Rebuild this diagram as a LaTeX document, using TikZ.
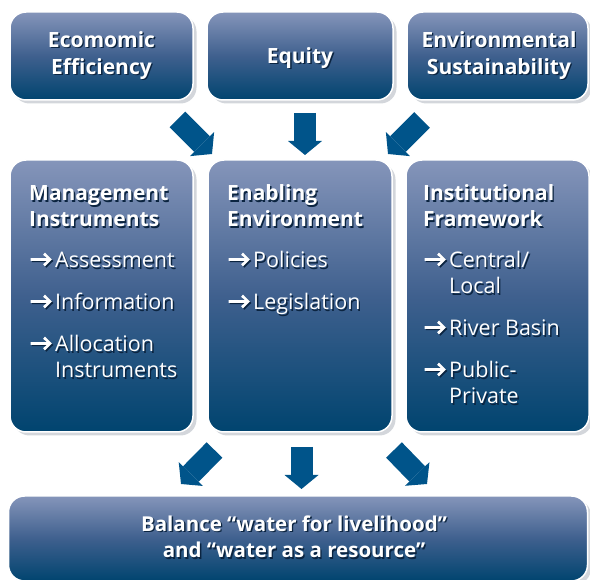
\documentclass[tikz,border=0pt]{standalone}
\usepackage{fontspec}
\setmainfont{Open Sans}
\usetikzlibrary{arrows.meta,shadows}
\definecolor{boxtop}{HTML}{8595BA}
\definecolor{boxmid}{HTML}{3F608E}
\definecolor{boxbot}{HTML}{00446F}
\definecolor{flowblue}{HTML}{00548A}
\definecolor{paleshade}{HTML}{D3D6DB}
\definecolor{textshade}{HTML}{0B2440}
\newcommand{\titlesize}{\fontsize{21}{25}\selectfont\bfseries}
\newcommand{\itemsize}{\fontsize{21.5}{25}\selectfont}
\newcommand{\footsize}{\fontsize{20.5}{24}\selectfont\bfseries}
% small arrow in front of each list entry
\newcommand{\bullarrow}{\makebox[26pt][l]{\tikz[baseline=0pt]\draw[line width=2.7pt,miter limit=10]
  (0,8.5pt) -- (19pt,8.5pt) (13.5pt,14.3pt) -- (19.5pt,8.5pt) -- (13.5pt,2.7pt);}}
% white text with a dark copy behind it
\newcommand{\shadowed}[4]{%
  \node[txtshade,#2] (#1s) at ([shift={(1.4,1.4)}]#3) {#4};
  \node[txtwhite,#2] (#1) at (#3) {#4};}
\tikzset{
  panel/.style={rectangle,rounded corners=16pt,draw=white,line width=1.5pt,
    top color=boxtop,bottom color=boxbot,middle color=boxmid,inner sep=0pt,
    drop shadow={shadow xshift=3.5pt,shadow yshift=-3.5pt,fill=paleshade,opacity=1}},
  flow/.style={draw=flowblue,line width=22pt,
    -{Triangle[width=34pt,length=14pt,line width=0pt]}},
  txtwhite/.style={text=white,inner sep=0pt},
  txtshade/.style={text=textshade,inner sep=0pt},
  headline/.style={font=\titlesize,anchor=base},
  subhead/.style={font=\titlesize,anchor=base west},
  entry/.style={font=\itemsize,anchor=base west},
  footline/.style={font=\footsize,anchor=base},
}

\begin{document}
\begin{tikzpicture}[x=1pt,y=-1pt]
  \clip (0,0) rectangle (590,580);

  % goals
  \node[panel,minimum width=183pt,minimum height=88pt] (eco) at (101.5,56) {};
  \node[panel,minimum width=186pt,minimum height=88pt] (equ) at (300,56) {};
  \node[panel,minimum width=181pt,minimum height=88pt] (env) at (497.5,56) {};
  % pillars
  \node[panel,minimum width=183pt,minimum height=272pt] (mgmt) at (101.5,296) {};
  \node[panel,minimum width=184pt,minimum height=272pt] (enab) at (300,296) {};
  \node[panel,minimum width=183pt,minimum height=272pt] (inst) at (497.5,296) {};
  % result
  \node[panel,minimum width=579pt,minimum height=85pt] (bal) at (298,538.5) {};

  \shadowed{ecoA}{headline}{101.5,47.5}{Ecomomic}
  \shadowed{ecoB}{headline}{101.5,74.5}{Efficiency}
  \shadowed{equA}{headline}{300,63.5}{Equity}
  \shadowed{envA}{headline}{499,47.5}{Environmental}
  \shadowed{envB}{headline}{499,74.5}{Sustainability}

  \shadowed{mgA}{subhead}{29,201}{Management}
  \shadowed{mgB}{subhead}{29,227}{Instruments}
  \shadowed{mg1}{entry}{29,268}{\bullarrow Assessment}
  \shadowed{mg2}{entry}{29,310}{\bullarrow Information}
  \shadowed{mg3}{entry}{29,352}{\bullarrow Allocation}
  \shadowed{mg3b}{entry}{55,378}{Instruments}

  \shadowed{enA}{subhead}{227,201}{Enabling}
  \shadowed{enB}{subhead}{227,227}{Environment}
  \shadowed{en1}{entry}{227,268}{\bullarrow Policies}
  \shadowed{en2}{entry}{227,310}{\bullarrow Legislation}

  \shadowed{inA}{subhead}{423,201}{Institutional}
  \shadowed{inB}{subhead}{423,227}{Framework}
  \shadowed{in1}{entry}{423,268}{\bullarrow Central/}
  \shadowed{in1b}{entry}{449,294}{Local}
  \shadowed{in2}{entry}{423,336}{\bullarrow River Basin}
  \shadowed{in3}{entry}{423,378}{\bullarrow Public-}
  \shadowed{in3b}{entry}{449,404}{Private}

  \shadowed{balA}{footline}{294,531}{Balance “water for livelihood”}
  \shadowed{balB}{footline}{294,558}{and “water as a resource”}

  % block arrows
  \coordinate (a1s) at (177.5,119.5);
  \coordinate (a1e) at (212,154);
  \coordinate (a2s) at (305,113);
  \coordinate (a2e) at (305,155);
  \coordinate (a3s) at (422,120);
  \coordinate (a3e) at (388,154);
  \coordinate (b1s) at (214.5,450);
  \coordinate (b1e) at (181,484);
  \coordinate (b2s) at (301.5,447);
  \coordinate (b2e) at (301.5,489);
  \coordinate (b3s) at (394,450);
  \coordinate (b3e) at (427,484);
  \draw[flow] (a1s) -- (a1e);
  \draw[flow] (a2s) -- (a2e);
  \draw[flow] (a3s) -- (a3e);
  \draw[flow] (b1s) -- (b1e);
  \draw[flow] (b2s) -- (b2e);
  \draw[flow] (b3s) -- (b3e);
\end{tikzpicture}
\end{document}
